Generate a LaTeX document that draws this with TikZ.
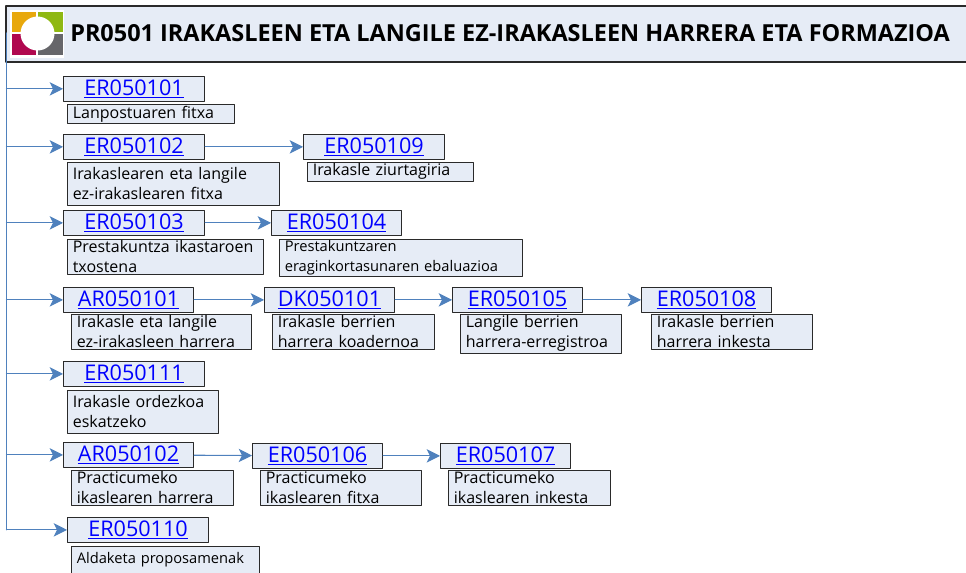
\documentclass[tikz,border=0pt]{standalone}
\usepackage{fontspec}
\setmainfont{Open Sans}
\usetikzlibrary{arrows.meta}
\definecolor{boxfill}{HTML}{E6ECF6}
\definecolor{linkblue}{HTML}{4F81BD}
\definecolor{edgegray}{HTML}{2A2A2A}
\definecolor{logoorange}{HTML}{E8A80C}
\definecolor{logogreen}{HTML}{8FB812}
\definecolor{logored}{HTML}{B0084F}
\definecolor{logogray}{HTML}{66666A}
\tikzset{
  codebox/.style={draw=edgegray,fill=boxfill,line width=0.8pt,anchor=north west,inner sep=0pt,
    minimum height=18.5pt,minimum width=#1*0.75pt,text=blue,font=\fontsize{16.2}{18}\selectfont},
  notebox/.style={draw=edgegray,fill=boxfill,line width=0.7pt,anchor=north west,inner xsep=4pt,inner ysep=1pt,
    text width=#1*0.75pt-8pt,align=left,text=black,font=\fontsize{12}{15}\selectfont},
  longnote/.style={font=\fontsize{11}{15}\selectfont},
  link/.style={draw=linkblue,line width=0.8pt,-{Stealth[length=10pt,width=10pt,inset=2.5pt]}}
}
\begin{document}
\begin{tikzpicture}[line cap=round,line join=round,x=0.75pt,y=-0.75pt]
\useasboundingbox (0,0) rectangle (966,572);
\clip (0,0) rectangle (966,572);

% header
\fill[boxfill] (6,6) rectangle (966,62);
\draw[edgegray,line width=0.8pt] (966,6) -- (6,6) -- (6,62) -- (966,62);
\fill[white] (10,10) rectangle (64,58);
\fill[logoorange] (12,12) rectangle (36,32);
\fill[logogreen] (38,12) rectangle (63,32);
\fill[logored] (12,34) rectangle (36,55);
\fill[logogray] (38,34) rectangle (63,55);
\fill[white] (37.5,33.5) circle[radius=17];
\node[anchor=west,inner sep=0pt,font=\fontsize{17.6}{20}\bfseries\selectfont] (title) at (70,33)
  {PR0501 IRAKASLEEN ETA LANGILE EZ-IRAKASLEEN HARRERA ETA FORMAZIOA};

% first column
\node[codebox=141] (er0101) at (63,76) {\underline{ER050101}};
\node[notebox=167] (txt0101) at (67,104) {Lanpostuaren fitxa};
\node[codebox=141] (er0102) at (63,134) {\underline{ER050102}};
\node[notebox=212,minimum height=32pt] (txt0102) at (67,162) {Irakaslearen eta langile\\ez-irakaslearen fitxa};
\node[codebox=141] (er0103) at (63,210) {\underline{ER050103}};
\node[notebox=196] (txt0103) at (67,239) {Prestakuntza ikastaroen\\txostena};
\node[codebox=130] (ar0101) at (63,287) {\underline{AR050101}};
\node[notebox=180] (txt0101b) at (71,314) {Irakasle eta langile\\ez-irakasleen harrera};
\node[codebox=141] (er0111) at (63,361) {\underline{ER050111}};
\node[notebox=151,minimum height=32pt] (txt0111) at (67,390) {Irakasle ordezkoa\\eskatzeko};
\node[codebox=130] (ar0102) at (63,442) {\underline{AR050102}};
\node[notebox=162] (txt0102b) at (71,470) {Practicumeko\\ikaslearen harrera};
\node[codebox=141] (er0110) at (67,517) {\underline{ER050110}};
\node[notebox=188,longnote,inner ysep=4.5pt] (txt0110) at (71,546) {Aldaketa proposamenak};

% other columns
\node[codebox=141] (er0109) at (303,134) {\underline{ER050109}};
\node[notebox=166] (txt0109) at (307,162) {Irakasle ziurtagiria};
\node[codebox=130] (er0104) at (271,210) {\underline{ER050104}};
\node[notebox=243,longnote] (txt0104) at (279,239) {Prestakuntzaren\\eraginkortasunaren ebaluazioa};
\node[codebox=130] (dk0101) at (264,287) {\underline{DK050101}};
\node[notebox=162] (txt0101c) at (272,314) {Irakasle berrien\\harrera koadernoa};
\node[codebox=130] (er0105) at (452,287) {\underline{ER050105}};
\node[notebox=161] (txt0105) at (460,314) {Langile berrien\\harrera-erregistroa};
\node[codebox=130] (er0108) at (641,287) {\underline{ER050108}};
\node[notebox=161] (txt0108) at (651,314) {Irakasle berrien\\harrera inkesta};
\node[codebox=130] (er0106) at (252,443) {\underline{ER050106}};
\node[notebox=161] (txt0106) at (260,470) {Practicumeko\\ikaslearen fitxa};
\node[codebox=130] (er0107) at (440,443) {\underline{ER050107}};
\node[notebox=162] (txt0107) at (448,470) {Practicumeko\\ikaslearen inkesta};

% connectors
\coordinate (trunk) at (6.5,33);
\coordinate (trunkend) at (er0110.west -| trunk);
\draw[draw=linkblue,line width=0.9pt] (trunk) -- (trunkend);
\foreach \name in {er0101,er0102,er0103,ar0101,er0111,ar0102,er0110}
  \draw[link] (\name.west -| trunk) -- (\name.west);
\draw[link] (er0102) -- (er0109);
\draw[link] (er0103) -- (er0104);
\draw[link] (ar0101) -- (dk0101);
\draw[link] (dk0101) -- (er0105);
\draw[link] (er0105) -- (er0108);
\draw[link] (ar0102) -- (er0106);
\draw[link] (er0106) -- (er0107);
\end{tikzpicture}
\end{document}
